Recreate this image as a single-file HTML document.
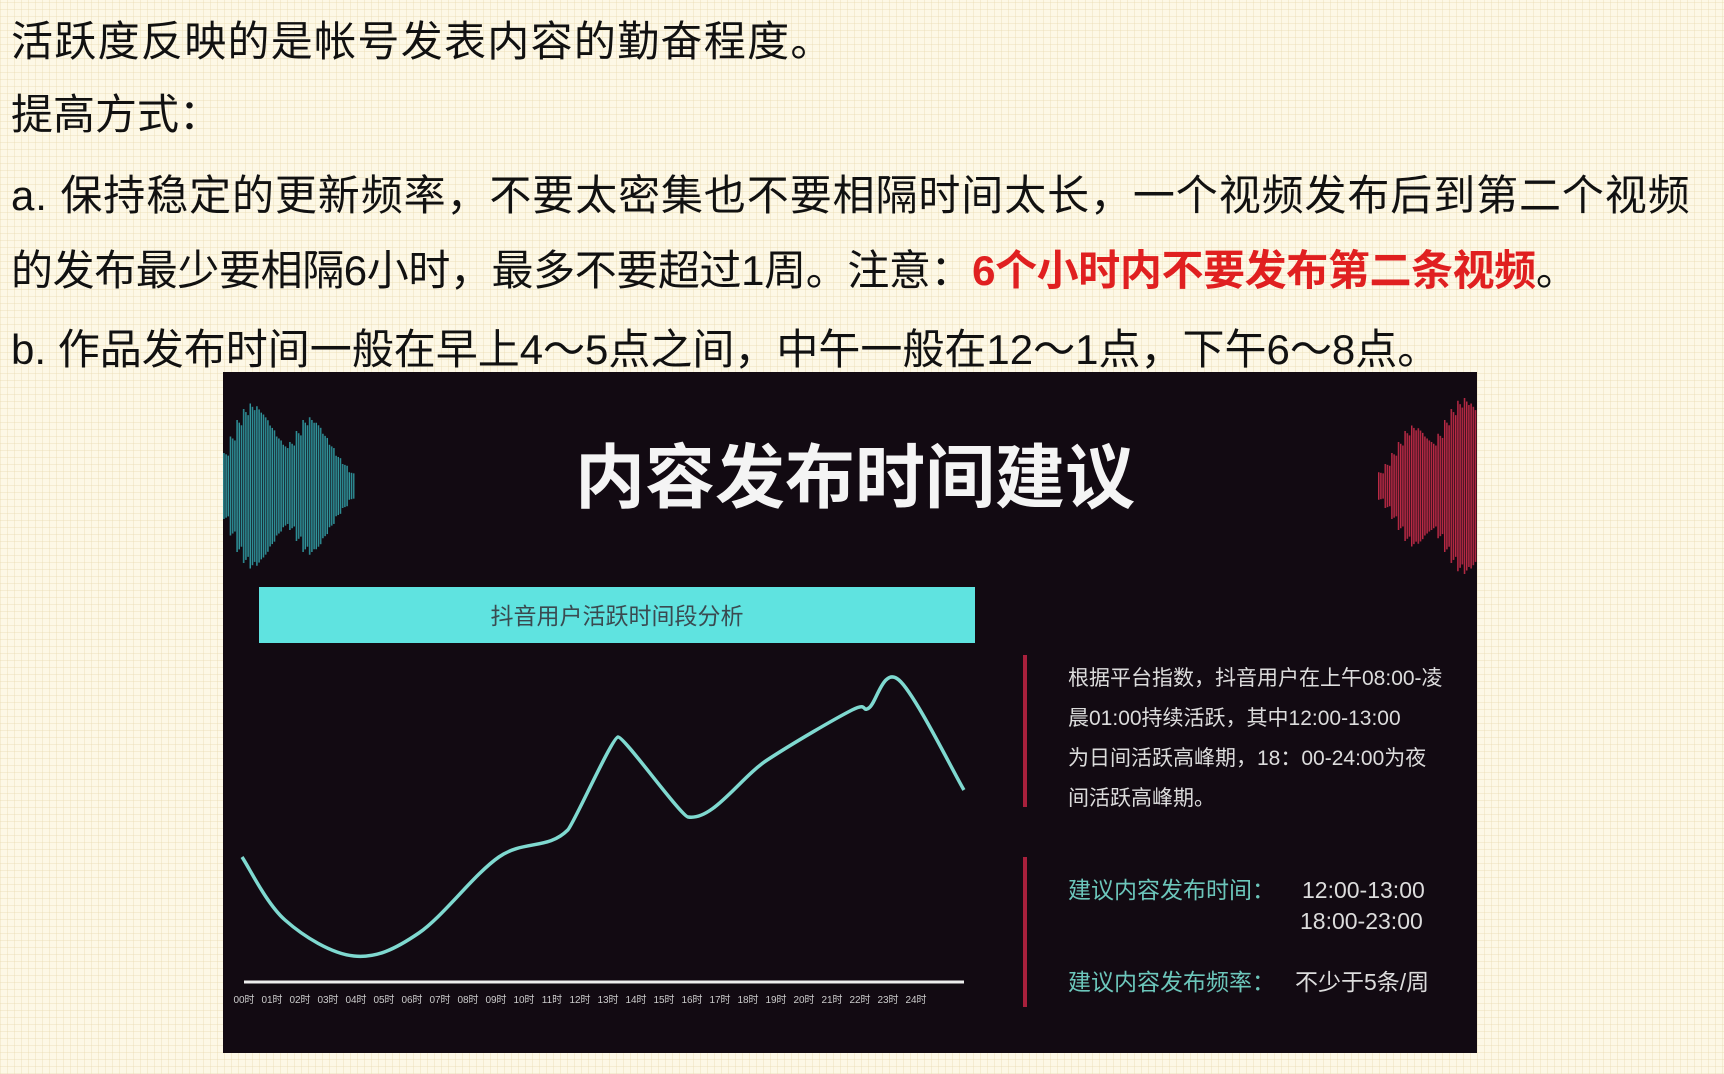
<!DOCTYPE html>
<html><head><meta charset="utf-8">
<style>
html,body{margin:0;padding:0}
body{width:1724px;height:1074px;position:relative;overflow:hidden;
background-color:#fdf8e6;
background-image:repeating-linear-gradient(0deg,rgba(230,215,170,.35) 0 1px,transparent 1px 7px),repeating-linear-gradient(90deg,rgba(230,215,170,.35) 0 1px,transparent 1px 7px);
font-family:"Liberation Sans","Noto Sans CJK SC",sans-serif;}
.line{position:absolute;left:11px;font-size:42px;color:#111;white-space:nowrap;line-height:1}
.red{color:#e02020;font-weight:bold}
</style></head><body>
<div class="line" style="top:21px;letter-spacing:1.3px">活跃度反映的是帐号发表内容的勤奋程度。</div>
<div class="line" style="top:94px">提高方式：</div>
<div class="line" style="top:175px;letter-spacing:0.9px">a. 保持稳定的更新频率，不要太密集也不要相隔时间太长，一个视频发布后到第二个视频</div>
<div class="line" style="top:250px;letter-spacing:-0.4px">的发布最少要相隔6小时，最多不要超过1周。注意：<span class="red">6个小时内不要发布第二条视频</span>。</div>
<div class="line" style="top:329px;letter-spacing:0px">b. 作品发布时间一般在早上4～5点之间，中午一般在12～1点，下午6～8点。</div>

<svg style="position:absolute;left:223px;top:372px" width="1254" height="681" viewBox="223 372 1254 681">
<defs>
<linearGradient id="tg" x1="0" x2="1"><stop offset="0" stop-color="#1e6a78"/><stop offset="1" stop-color="#3aa6a8"/></linearGradient>
<linearGradient id="rg" x1="0" x2="1"><stop offset="0" stop-color="#d0304a"/><stop offset="1" stop-color="#8a1e38"/></linearGradient>
</defs>
<rect x="223" y="372" width="1254" height="681" fill="#120a12"/>
<g id="waveL"></g>
<g id="waveR"></g>
<text x="855" y="502" text-anchor="middle" font-size="70" font-weight="bold" fill="#f4f4f4">内容发布时间建议</text>
<rect x="259" y="587" width="716" height="56" fill="#5fe3e0"/>
<text x="617" y="624" text-anchor="middle" font-size="23" fill="#3a4a50">抖音用户活跃时间段分析</text>
<line x1="244" y1="982" x2="964" y2="982" stroke="#eee" stroke-width="3"/>
<g id="ticks"></g>
<path id="curve" fill="none" stroke="#7fd9d0" stroke-width="3.5"/>
<rect x="1023" y="655" width="4" height="152" fill="#a8203c"/>
<rect x="1023" y="857" width="4" height="150" fill="#a8203c"/>
<g font-size="21" fill="#dcdcdc">
<text x="1068" y="685">根据平台指数，抖音用户在上午08:00-凌</text>
<text x="1068" y="725">晨01:00持续活跃，其中12:00-13:00</text>
<text x="1068" y="765">为日间活跃高峰期，18：00-24:00为夜</text>
<text x="1068" y="805">间活跃高峰期。</text>
</g>
<g font-size="23">
<text x="1068" y="898" fill="#6cc6bb">建议内容发布时间：</text>
<text x="1302" y="898" fill="#dcdcdc">12:00-13:00</text>
<text x="1300" y="929" fill="#dcdcdc">18:00-23:00</text>
<text x="1068" y="990" fill="#6cc6bb">建议内容发布频率：</text>
<text x="1295" y="990" fill="#dcdcdc">不少于5条/周</text>
</g>
</svg>
<script>
const hours=[0,1.43,3.72,5.88,8.54,10.83,12.5,14.83,17.46,20.28,20.84,21.84,24];
const activity=[125,62,26,49,125,152,245,165,222,272,274,302,192];
const tickLabels=["00时","01时","02时","03时","04时","05时","06时","07时","08时","09时","10时","11时","12时","13时","14时","15时","16时","17时","18时","19时","20时","21时","22时","23时","24时"];
const waveLeft=[60,90,120,140,150,145,130,110,90,75,80,100,120,125,115,95,75,55,40,25];
const waveRight=[25,40,60,80,100,110,105,90,80,95,120,140,155,160,150];
const sx=h=>242+h*30.08;
const sy=v=>982-v;
const tx=i=>244+i*28;
const ns="http://www.w3.org/2000/svg";
let pts=hours.map((h,i)=>[sx(h),sy(activity[i])]);
let d="M"+pts[0][0]+","+pts[0][1];
for(let i=0;i<pts.length-1;i++){
 const p0=pts[i-1]||pts[i],p1=pts[i],p2=pts[i+1],p3=pts[i+2]||p2;
 const t=(i==5||i==6)?0.05:1/6;
 d+=" C"+(p1[0]+(p2[0]-p0[0])*t)+","+(p1[1]+(p2[1]-p0[1])*t)+" "+(p2[0]-(p3[0]-p1[0])*t)+","+(p2[1]-(p3[1]-p1[1])*t)+" "+p2[0]+","+p2[1];
}
document.getElementById('curve').setAttribute('d',d);
const tg=document.getElementById('ticks');
tickLabels.forEach((l,i)=>{
 const t=document.createElementNS(ns,'text');
 t.setAttribute('x',tx(i));t.setAttribute('y',1003);t.setAttribute('font-size','10');
 t.setAttribute('fill','#ccc');t.setAttribute('text-anchor','middle');
 t.textContent=l;
 
 
 tg.appendChild(t);
});
function wave(id,arr,x0,fill){
 const g=document.getElementById(id);
 arr.forEach((h,i)=>{
  for(let k=0;k<3;k++){
   const r=document.createElementNS(ns,'rect');
   const hh=h*(1-k*0.04);
   r.setAttribute('x',x0+i*6.6+k*2.2);r.setAttribute('width',1.6);
   r.setAttribute('y',486-hh/2*1.1);r.setAttribute('height',hh*1.1);
   r.setAttribute('fill',fill);
   
   
   g.appendChild(r);
  }
 });
}
wave('waveL',waveLeft,223,'url(#tg)');
wave('waveR',waveRight,1378,'url(#rg)');
</script>
</body></html>
